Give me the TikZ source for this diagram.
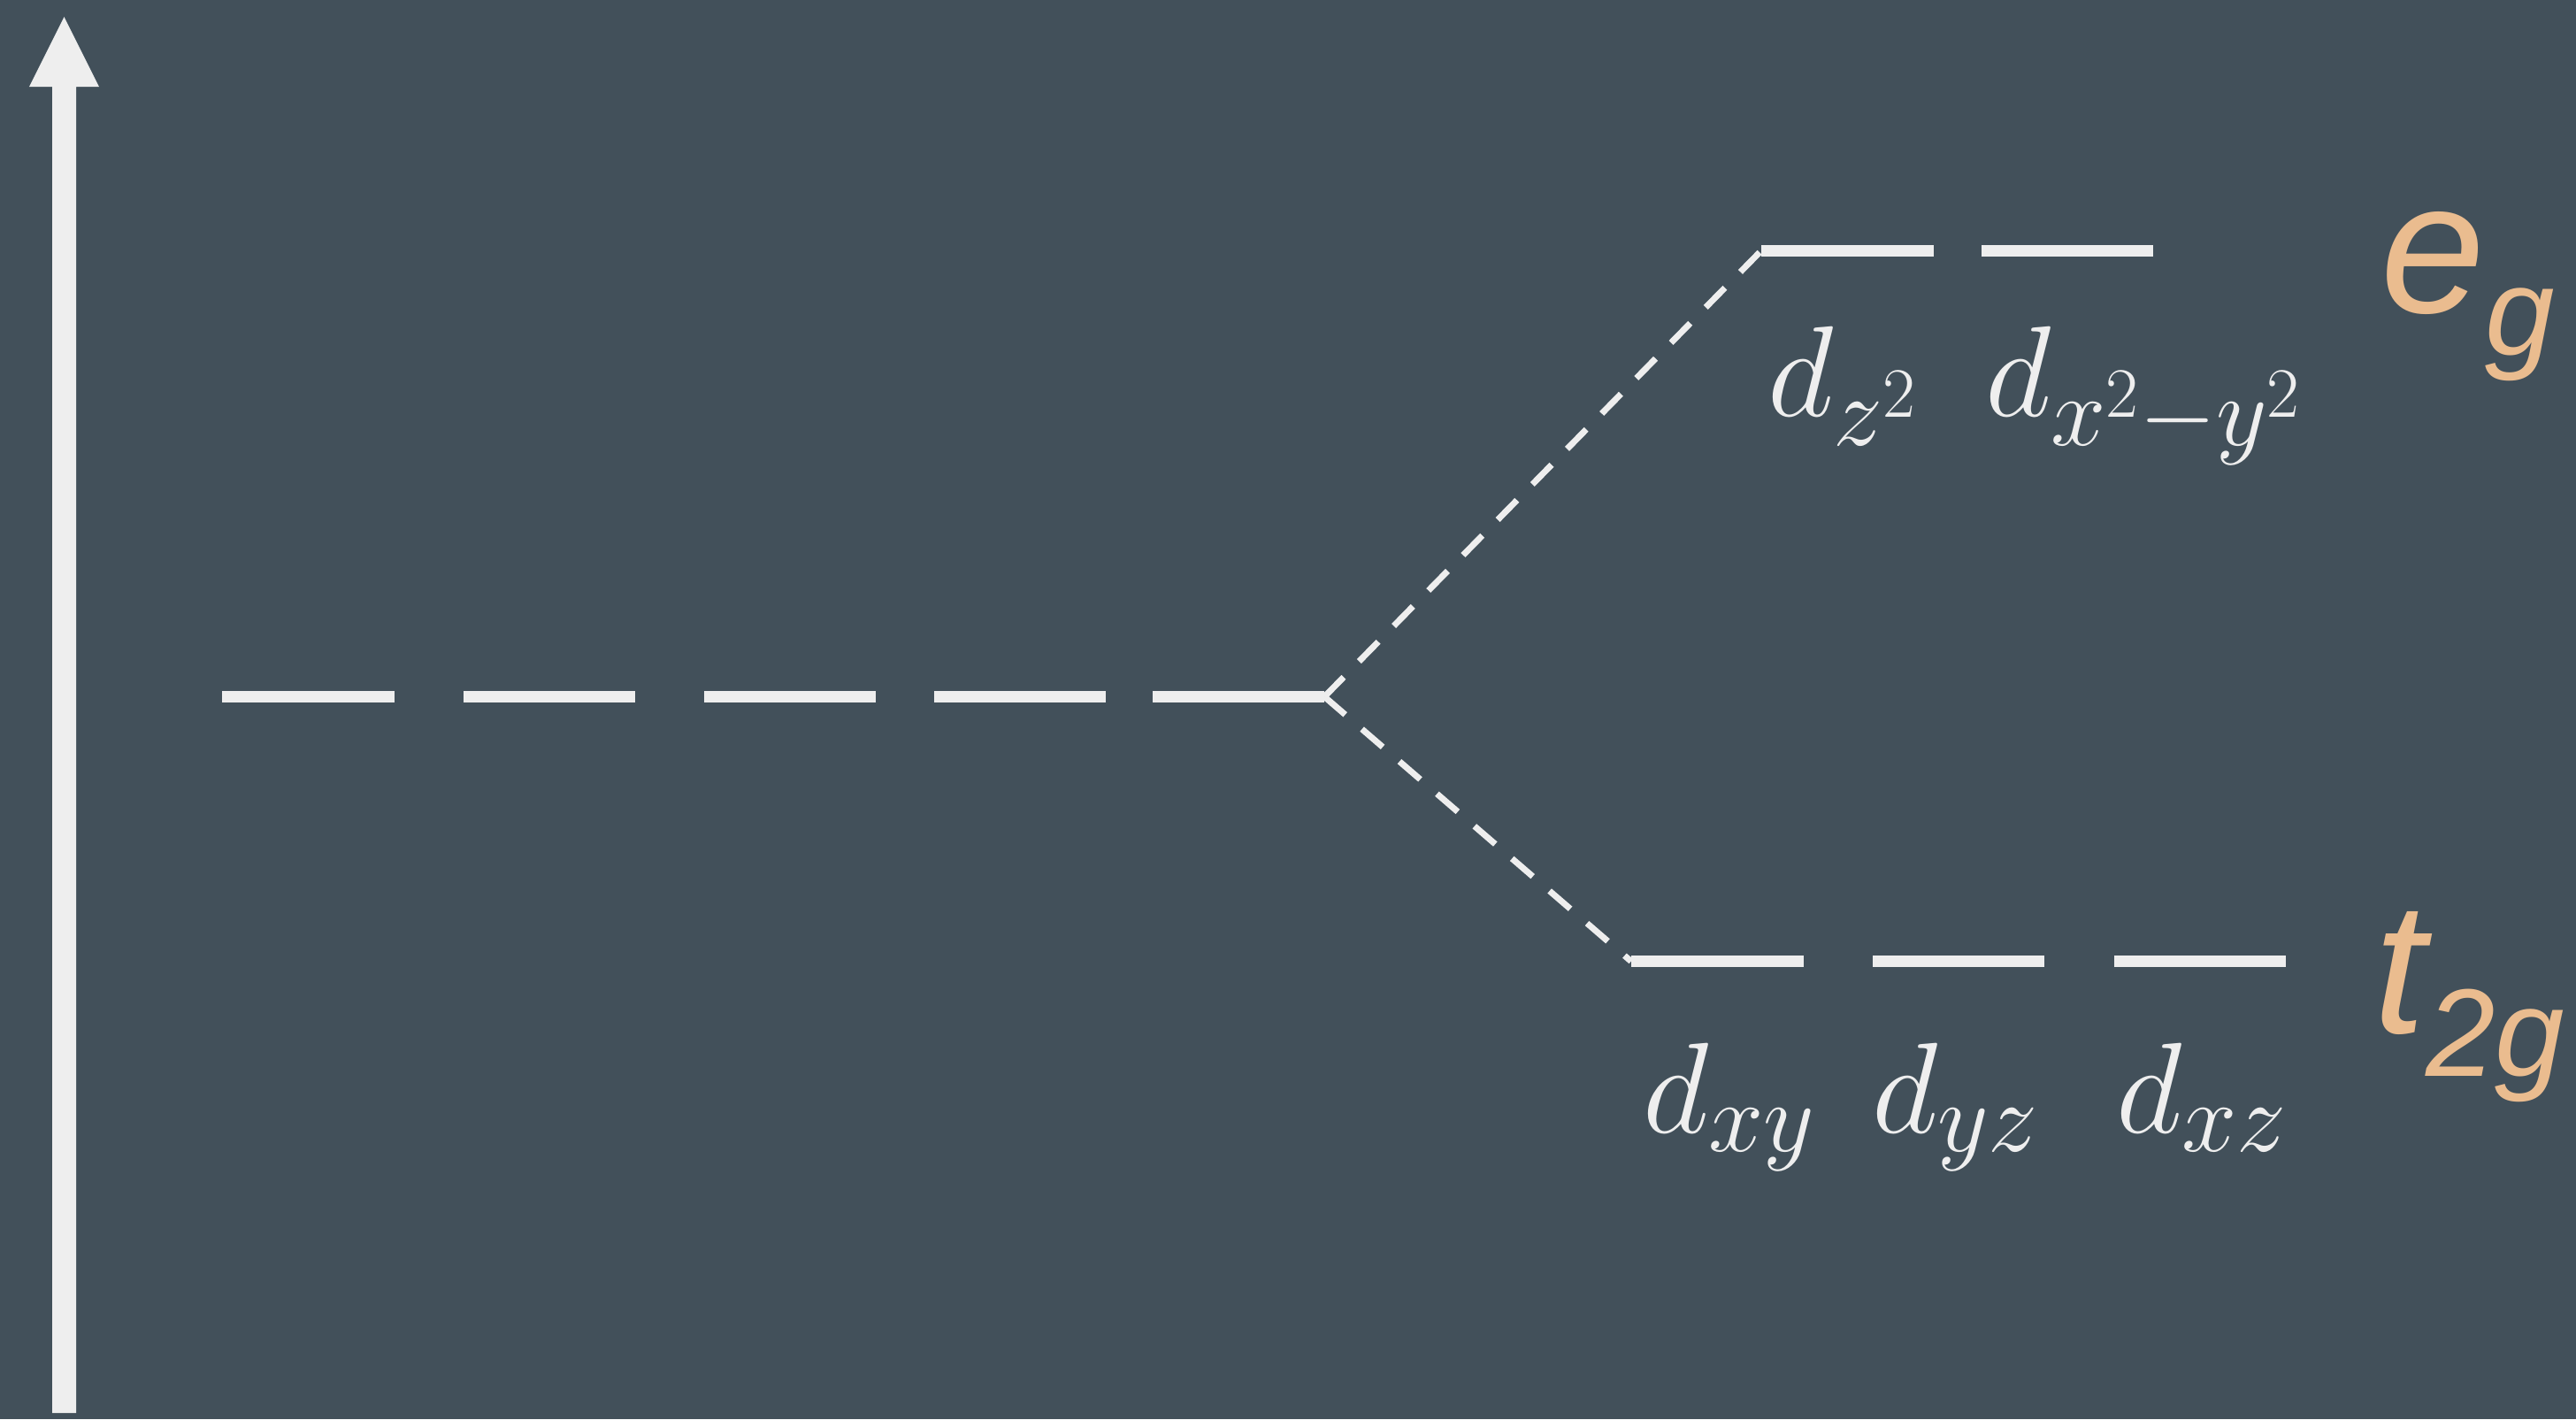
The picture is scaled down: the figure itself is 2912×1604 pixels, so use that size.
\RequirePackage{fix-cm}
\documentclass[tikz,border=0pt]{standalone}
\usepackage{fontspec}
\newfontfamily\orfont{Liberation Sans}
\DeclareMathSizes{146}{146}{112}{80}
\definecolor{bgcol}{HTML}{42505A}
\definecolor{linecol}{HTML}{EEEEEE}
\definecolor{orcol}{HTML}{EABC8F}
\tikzset{
  level/.style={fill=linecol, draw=none, inner sep=0pt, minimum height=13pt, rectangle},
  conn/.style={draw=linecol, line width=7pt, dash pattern=on 31pt off 25pt},
  dlabel/.style={text=linecol, inner sep=0pt, anchor=base west, font=\fontsize{146}{175}\selectfont},
  glabel/.style={text=orcol, inner sep=0pt, anchor=base west, font=\orfont\itshape\fontsize{212}{250}\selectfont},
}
\begin{document}
\begin{tikzpicture}[x=1pt,y=-1pt]
\useasboundingbox (0,0) rectangle (2912,1604);
\fill[bgcol] (0,0) rectangle (2912,1604);
% energy axis
\fill[linecol] (59,1597) -- (59,98) -- (33,98) -- (72.5,19) -- (112,98) -- (86,98) -- (86,1597) -- cycle;
% degenerate levels
\node[level, minimum width=195pt] (m1) at (348.5,787.5) {};
\node[level, minimum width=194pt] (m2) at (621,787.5) {};
\node[level, minimum width=194pt] (m3) at (893,787.5) {};
\node[level, minimum width=194pt] (m4) at (1153,787.5) {};
\node[level, minimum width=194pt] (m5) at (1400,787.5) {};
% eg levels
\node[level, minimum width=195pt] (eg1) at (2088.5,283.5) {};
\node[level, minimum width=194pt] (eg2) at (2337,283.5) {};
% t2g levels
\node[level, minimum width=195pt] (t1) at (1941.5,1086.5) {};
\node[level, minimum width=194pt] (t2) at (2214,1086.5) {};
\node[level, minimum width=194pt] (t3) at (2487,1086.5) {};
% connectors
\draw[conn] (m5.east) -- (eg1.west);
\draw[conn] (m5.east) -- (t1.west);
% orbital labels
\node[dlabel] (lz2) at (1998,470) {$d_{z^2}$};
\node[dlabel] (lx2y2) at (2244,470) {$d_{x^2-y^2}$};
\node[dlabel] (lxy) at (1857,1280) {$d_{xy}$};
\node[dlabel] (lyz) at (2116,1280) {$d_{yz}$};
\node[dlabel] (lxz) at (2392,1280) {$d_{xz}$};
% group labels
\node[glabel] (eg) at (2691,353) {e\raisebox{-48pt}{\fontsize{141}{170}\selectfont g}};
\node[glabel] (t2g) at (2683,1167) {t\raisebox{-49pt}{\fontsize{141}{170}\selectfont 2g}};
\end{tikzpicture}
\end{document}
